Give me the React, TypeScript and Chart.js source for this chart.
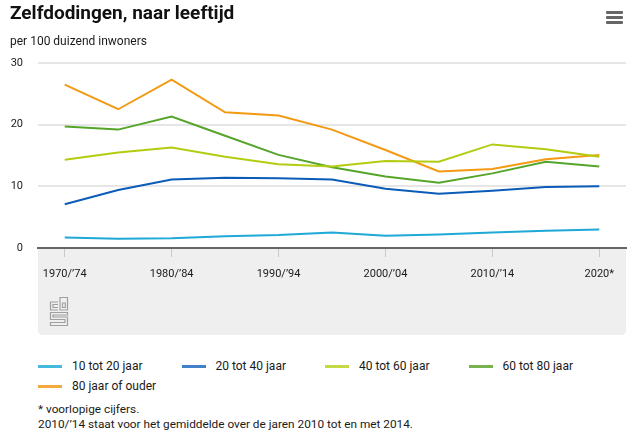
import React, { useEffect, useRef } from "react";
import { Chart, registerables } from "chart.js";

Chart.register(...registerables);

const categories = ["1970/’74", "1975/’79", "1980/’84", "1985/’89", "1990/’94", "1995/’99", "2000/’04", "2005/’09", "2010/’14", "2015/’19", "2020*"];
const seriesNames = ["10 tot 20 jaar", "20 tot 40 jaar", "40 tot 60 jaar", "60 tot 80 jaar", "80 jaar of ouder"];
const age10to20 = [1.7, 1.5, 1.6, 1.9, 2.1, 2.5, 2.0, 2.2, 2.5, 2.8, 3.0];
const age20to40 = [7.1, 9.4, 11.1, 11.4, 11.3, 11.1, 9.6, 8.8, 9.3, 9.9, 10.0];
const age40to60 = [14.3, 15.5, 16.3, 14.8, 13.6, 13.2, 14.1, 14.0, 16.8, 16.0, 14.8];
const age60to80 = [19.7, 19.2, 21.3, 18.2, 15.1, 13.1, 11.6, 10.6, 12.1, 14.0, 13.2];
const age80plus = [26.5, 22.5, 27.3, 22.0, 21.5, 19.2, 15.9, 12.4, 12.8, 14.4, 15.1];
const yTicks = [0, 10, 20, 30];

const seriesValues = [age10to20, age20to40, age40to60, age60to80, age80plus];
const lineColors = ["#1ea9d6", "#0a5cb8", "#b3cc10", "#55a52a", "#f39a12"];
const legendColors = ["#45b8de", "#4181c9", "#c4d943", "#79b350", "#f5a83c"];

const FONT = "Roboto, 'Noto Sans', sans-serif";

const bandPlugin = {
  id: "band",
  beforeDraw(chart: any) {
    const { ctx, chartArea } = chart;
    const x0 = chartArea.left;
    const x1 = chartArea.right;
    const y0 = chartArea.bottom;
    const y1 = y0 + 87;
    const r = 5;
    ctx.save();
    ctx.fillStyle = "#efefef";
    ctx.beginPath();
    ctx.moveTo(x0, y0);
    ctx.lineTo(x1, y0);
    ctx.lineTo(x1, y1 - r);
    ctx.quadraticCurveTo(x1, y1, x1 - r, y1);
    ctx.lineTo(x0 + r, y1);
    ctx.quadraticCurveTo(x0, y1, x0, y1 - r);
    ctx.closePath();
    ctx.fill();
    // cbs logo
    const lx = x0 + 12;
    const ly = y0 + 49;
    ctx.strokeStyle = "#a0a0a0";
    ctx.lineWidth = 1.2;
    ctx.beginPath();
    // c
    ctx.moveTo(lx + 8, ly + 5);
    ctx.lineTo(lx + 0.5, ly + 5);
    ctx.lineTo(lx + 0.5, ly + 13);
    ctx.lineTo(lx + 8, ly + 13);
    ctx.moveTo(lx + 8, ly + 7.5);
    ctx.lineTo(lx + 3, ly + 7.5);
    ctx.lineTo(lx + 3, ly + 10.5);
    ctx.lineTo(lx + 8, ly + 10.5);
    // b
    ctx.rect(lx + 10, ly + 0.5, 7.5, 12.5);
    ctx.rect(lx + 12.5, ly + 6, 2.8, 4.5);
    // S
    ctx.moveTo(lx + 17.5, ly + 15.5);
    ctx.lineTo(lx + 0.5, ly + 15.5);
    ctx.lineTo(lx + 0.5, ly + 22.5);
    ctx.lineTo(lx + 15, ly + 22.5);
    ctx.lineTo(lx + 15, ly + 25.5);
    ctx.lineTo(lx + 0.5, ly + 25.5);
    ctx.lineTo(lx + 0.5, ly + 28.5);
    ctx.lineTo(lx + 17.5, ly + 28.5);
    ctx.lineTo(lx + 17.5, ly + 20);
    ctx.lineTo(lx + 3, ly + 20);
    ctx.lineTo(lx + 3, ly + 18);
    ctx.lineTo(lx + 17.5, ly + 18);
    ctx.closePath();
    ctx.stroke();
    ctx.restore();
  },
};

function LineChart() {
  const ref = useRef<HTMLCanvasElement | null>(null);
  useEffect(() => {
    document.body.style.margin = "0";
    if (!ref.current) return;
    const chart = new Chart(ref.current, {
      type: "line",
      data: {
        labels: categories,
        datasets: seriesValues.map((vals, i) => ({
          label: seriesNames[i],
          data: vals,
          borderColor: lineColors[i],
          backgroundColor: lineColors[i],
          borderWidth: 2,
          pointRadius: 0,
          tension: 0,
          fill: false,
        })),
      },
      options: {
        animation: false,
        responsive: false,
        maintainAspectRatio: false,
        layout: { padding: { top: 63, right: 14, bottom: 5, left: 0 } },
        plugins: {
          legend: { display: false },
          title: { display: false },
          tooltip: { enabled: false },
        },
        scales: {
          x: {
            type: "category",
            offset: true,
            grid: {
              drawOnChartArea: false,
              drawTicks: true,
              tickLength: 9,
              lineWidth: 1,
              color: (c: any) => (c.index % 2 === 0 ? "#c8c8c8" : "rgba(0,0,0,0)"),
            },
            border: { display: true, color: "#666666", width: 2 },
            ticks: {
              autoSkip: false,
              maxRotation: 0,
              padding: 11,
              color: "#1a1a1a",
              font: { family: FONT, size: 11 },
              callback: (_v: any, i: number) => (i % 2 === 0 ? categories[i] : ""),
            },
            afterFit: (s: any) => {
              s.height = 87;
            },
          },
          y: {
            min: 0,
            max: 30,
            afterBuildTicks: (s: any) => {
              s.ticks = yTicks.map((v) => ({ value: v }));
            },
            grid: { color: "#e6e6e6", lineWidth: 2, drawTicks: false },
            border: { display: false },
            ticks: {
              padding: 15,
              color: "#1a1a1a",
              font: { family: FONT, size: 11 },
            },
            afterFit: (s: any) => {
              s.width = 38;
            },
          },
        },
      },
      plugins: [bandPlugin],
    } as any);
    return () => chart.destroy();
  }, []);
  return <canvas ref={ref} width={640} height={340} style={{ position: "absolute", left: 0, top: 0, width: 640, height: 340 }} />;
}

export default function App() {
  return (
    <div style={{ position: "relative", width: 640, height: 442, fontFamily: FONT, color: "#1a1a1a", background: "#fff", overflow: "hidden" }}>
      <LineChart />
      <div style={{ position: "absolute", left: 10, top: 2, fontSize: 19, fontWeight: 700, lineHeight: "22px", color: "#111" }}>
        Zelfdodingen, naar leeftijd
      </div>
      <div style={{ position: "absolute", left: 10, top: 33, fontSize: 12, lineHeight: "16px" }}>per 100 duizend inwoners</div>
      <div style={{ position: "absolute", left: 606, top: 11 }}>
        {[0, 1, 2].map((i) => (
          <div key={i} style={{ width: 17, height: 3, background: "#666", borderRadius: 1, marginBottom: 2 }} />
        ))}
      </div>
      <div style={{ position: "absolute", left: 38, top: 356, width: 600 }}>
        {seriesNames.map((name, i) => (
          <div
            key={name}
            style={{
              position: "absolute",
              left: (i % 4) * 143.5,
              top: Math.floor(i / 4) * 20,
              height: 20,
              display: "flex",
              alignItems: "center",
              fontSize: 12,
              whiteSpace: "nowrap",
            }}
          >
            <span style={{ display: "inline-block", width: 24, height: 3, background: legendColors[i], marginRight: 10 }} />
            <span>{name}</span>
          </div>
        ))}
      </div>
      <div style={{ position: "absolute", left: 38, top: 402, fontSize: 11.8, lineHeight: "15px" }}>
        <div>* voorlopige cijfers.</div>
        <div>2010/’14 staat voor het gemiddelde over de jaren 2010 tot en met 2014.</div>
      </div>
    </div>
  );
}
